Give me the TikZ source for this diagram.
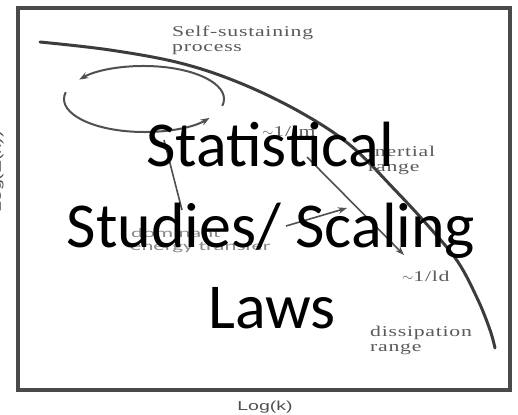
\documentclass[tikz,border=0pt]{standalone}
\usepackage{fontspec}
\usetikzlibrary{arrows.meta}
\newfontfamily\bigfont{Carlito}
\newfontfamily\lblfont[FakeStretch=1.45,LetterSpace=5]{Liberation Serif}
\newfontfamily\domfont[FakeStretch=1.75]{Carlito}
\newfontfamily\axisfont[FakeStretch=1.5]{Liberation Sans}
\definecolor{framec}{HTML}{4A4A4A}
\definecolor{curvec}{HTML}{3C3C3C}
\definecolor{thinc}{HTML}{505050}
\definecolor{lblc}{HTML}{5A5A5A}
\definecolor{domc}{HTML}{8A8A8A}
\tikzset{
  framebox/.style={draw=framec, line width=4pt},
  bigcurve/.style={draw=curvec, line width=3pt, line cap=round},
  thinline/.style={draw=thinc, line width=1.6pt},
  looparc/.style={draw=thinc, line width=2pt},
  tip/.style={-{Stealth[length=9pt,width=6.5pt]}},
  lbl/.style={text=lblc, font=\lblfont\fontsize{15}{15}\selectfont, anchor=base west, inner sep=0pt},
  domlbl/.style={text=domc, font=\domfont\fontsize{13}{13}\selectfont, anchor=base west, inner sep=0pt},
  axislbl/.style={text=thinc, font=\axisfont\fontsize{13}{13}\selectfont, inner sep=0pt},
  bigtext/.style={text=black, font=\bigfont\fontsize{64}{64}\selectfont, anchor=base, inner sep=0pt}
}
\begin{document}
\begin{tikzpicture}[x=1pt,y=-1pt]
\useasboundingbox (0,0) rectangle (518,414);
\fill[white] (0,0) rectangle (518,414);
% frame
\draw[framebox] (18,8) rectangle (509.5,390);
% spectrum curve
\draw[bigcurve] plot[smooth, tension=0.6] coordinates {(40,42) (110,50) (180,63) (240,83) (300,112) (350,145) (395,190) (430,228) (458,262) (478,300) (490,330) (495,348)};
% self-sustaining loop
\draw[looparc, tip] (144,99) ++(12:80 and 33) arc[start angle=12, end angle=-144, x radius=80, y radius=33];
\draw[looparc, tip] (144,99) ++(192:80 and 33) arc[start angle=192, end angle=35, x radius=80, y radius=33];
% connectors
\coordinate (loopb) at (164,140);
\coordinate (domtop) at (182,210);
\draw[thinline] (loopb) -- (domtop);
\coordinate (lm) at (307,157);
\coordinate (ld) at (404,255);
\draw[thinline, tip] (lm) -- (ld);
\coordinate (ets) at (286,226);
\coordinate (ete) at (347,208);
\draw[thinline, tip] (ets) -- (ete);
% labels
\node[lbl] (ss1) at (172,37) {Self-sustaining};
\node[lbl] (ss2) at (172,52) {process};
\node[lbl] (lmlbl) at (262,136) {$\sim$1/lm};
\node[lbl] (in1) at (368,157) {inertial};
\node[lbl] (in2) at (368,171) {range};
\node[lbl] (ldlbl) at (402,281) {$\sim$1/ld};
\node[lbl] (di1) at (370,336) {dissipation};
\node[lbl] (di2) at (370,351) {range};
\node[domlbl] (do1) at (131,237) {dominant};
\node[domlbl] (do2) at (130,250) {energy transfer};
\node[axislbl, anchor=base] (xl) at (265,410) {Log(k)};
\node[axislbl, anchor=base, rotate=90] (yl) at (1,172) {Log(E(k))};
% overlay title
\node[bigtext] (t1) at (270,166) {Statistical};
\node[bigtext] (t2) at (271,247) {Studies/ Scaling};
\node[bigtext] (t3) at (272,328) {Laws};
\end{tikzpicture}
\end{document}
